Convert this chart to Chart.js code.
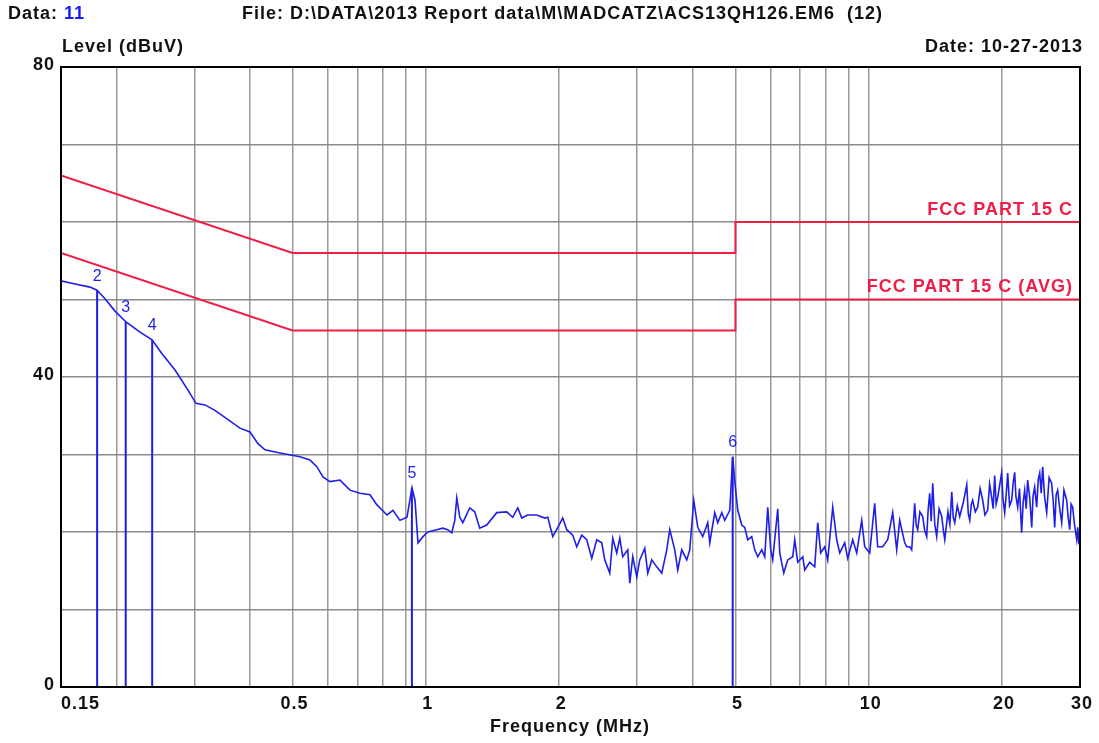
<!DOCTYPE html>
<html>
<head>
<meta charset="utf-8">
<script src="https://cdn.jsdelivr.net/npm/chart.js@4/dist/chart.umd.min.js"></script>
<style>
  html, body { margin: 0; padding: 0; background: #ffffff; }
  #emiChart { display: block; }
</style>
</head>
<body>
<canvas id="emiChart" width="1099" height="743"></canvas>
<script>
const freqMHz = [
  0.150, 0.1613, 0.1744, 0.1809, 0.1886, 0.1986, 0.2103, 0.2262, 0.2408, 0.2536,
  0.2714, 0.2903, 0.3026, 0.3171, 0.3340, 0.3575, 0.3804, 0.4007, 0.4177, 0.4332,
  0.4683, 0.5196, 0.5474, 0.5677, 0.5856, 0.6074, 0.6398, 0.6740, 0.7100, 0.7479,
  0.7755, 0.8170, 0.8429, 0.8741, 0.9065, 0.9303, 0.9450, 0.9599, 0.9852, 1.0099,
  1.0583, 1.0918, 1.1206, 1.1441, 1.1622, 1.1744, 1.1928, 1.2116, 1.2563, 1.2894,
  1.3232, 1.3723, 1.4455, 1.5226, 1.5709, 1.6127, 1.6466, 1.6988, 1.7802, 1.8557,
  1.8849, 1.9346, 1.9857, 2.0375, 2.0803, 2.1462, 2.1913, 2.2492, 2.3085, 2.3693,
  2.4317, 2.4958, 2.5350, 2.6018, 2.6427, 2.6982, 2.7406, 2.7836, 2.8571, 2.8869,
  2.9323, 2.9939, 3.0410, 3.1212, 3.1702, 3.2368, 3.3219, 3.4094, 3.4992, 3.5543,
  3.6479, 3.7052, 3.7832, 3.8829, 3.9440, 4.0268, 4.1114, 4.2197, 4.3308, 4.3761,
  4.4914, 4.5620, 4.6578, 4.7311, 4.8558, 4.93, 4.98, 5.0619, 5.1683, 5.2484,
  5.3309, 5.4430, 5.5286, 5.6156, 5.7336, 5.8238, 5.9154, 6.0085, 6.0712, 6.2313,
  6.2965, 6.4287, 6.5638, 6.7366, 6.8069, 6.9140, 7.0960, 7.1701, 7.3588, 7.5525,
  7.6713, 7.7920, 7.9558, 8.0810, 8.2937, 8.4679, 8.6010, 8.8273, 8.9662, 9.2022,
  9.3956, 9.6428, 9.7945, 10.052, 10.316, 10.478, 10.756, 11.039, 11.329, 11.567,
  11.749, 12.058, 12.184, 12.376, 12.505,
  12.70, 12.80, 12.90, 13.05, 13.24, 13.38, 13.52, 13.62, 13.73, 13.84,
  13.95, 14.10, 14.24, 14.42, 14.62, 14.73, 14.85, 15.10, 15.25, 15.40,
  15.52, 15.64, 15.85, 16.05, 16.35, 16.65, 16.78, 16.91, 17.05, 17.17,
  17.40, 17.62, 17.85, 18.09, 18.30, 18.56, 18.75, 18.95, 19.10, 19.25,
  19.40, 19.56, 19.75, 19.96, 20.10, 20.28, 20.45, 20.60, 20.80, 21.03,
  21.20, 21.36, 21.50, 21.70, 21.90, 22.15, 22.32, 22.50, 22.68, 22.85,
  23.10, 23.34, 23.50, 23.70, 23.95, 24.15, 24.33, 24.52, 24.71, 24.95,
  25.23, 25.55, 25.89, 26.10, 26.30, 26.50, 26.71, 27.00, 27.28, 27.60,
  27.99, 28.20, 28.44, 28.65, 28.88, 29.15, 29.49, 29.65, 29.80, 30.0
];
const levelDbuV = [
  52.4, 52.0, 51.6, 51.2, 50.1, 48.5, 47.1, 45.8, 44.8, 43.0,
  40.9, 38.3, 36.6, 36.4, 35.7, 34.5, 33.4, 32.9, 31.4, 30.6,
  30.2, 29.7, 29.3, 28.4, 27.1, 26.5, 26.7, 25.4, 25.0, 24.8,
  23.5, 22.2, 22.8, 21.5, 21.9, 25.7, 24.1, 18.6, 19.4, 20.0,
  20.3, 20.5, 20.3, 19.9, 21.5, 24.4, 21.9, 21.2, 23.1, 22.6,
  20.5, 20.9, 22.5, 22.6, 21.9, 23.1, 21.8, 22.2, 22.2, 21.8,
  21.9, 19.4, 20.6, 21.8, 20.3, 19.6, 18.1, 19.6, 19.0, 16.6,
  19.0, 18.6, 16.4, 14.7, 19.2, 17.3, 19.2, 16.8, 17.7, 13.4,
  16.8, 14.2, 16.4, 17.9, 14.7, 16.4, 15.5, 14.7, 17.7, 20.3,
  17.7, 15.1, 17.7, 16.4, 17.7, 24.1, 20.6, 19.4, 21.2, 18.6,
  22.5, 21.2, 22.5, 21.5, 22.8, 29.7, 26.7, 22.8, 20.9, 20.6,
  19.0, 19.4, 17.7, 16.8, 17.7, 16.8, 23.2, 17.7, 16.4, 23.0,
  17.3, 14.7, 16.4, 16.8, 19.0, 16.1, 16.8, 15.1, 16.1, 15.5,
  21.2, 17.3, 18.1, 16.4, 23.2, 19.0, 17.3, 18.6, 16.6, 19.0,
  17.3, 21.5, 18.1, 17.3, 23.7, 18.1, 18.1, 19.0, 22.5, 17.7,
  21.5, 18.6, 18.1, 18.1, 17.7,
  23.7, 20.9, 20.3, 22.6, 22.0, 20.2, 19.4, 22.8, 25.0, 21.4,
  26.3, 21.0, 19.4, 23.0, 22.0, 20.4, 19.0, 22.6, 21.0, 25.2,
  21.9, 21.2, 23.4, 22.0, 23.8, 26.1, 22.4, 21.5, 23.6, 24.1,
  22.6, 23.2, 25.6, 24.1, 22.2, 22.8, 26.2, 24.5, 23.0, 27.3,
  23.6, 24.5, 26.0, 27.6, 24.2, 22.5, 25.0, 27.6, 23.4, 24.1,
  26.4, 27.7, 24.6, 23.2, 25.6, 19.9, 23.8, 25.4, 23.0, 26.7,
  24.4, 20.6, 24.6, 25.8, 23.2, 26.8, 27.6, 25.0, 28.4, 24.6,
  22.5, 27.0, 26.3, 24.0, 20.6, 24.8, 25.4, 23.0, 21.2, 25.4,
  24.1, 22.0, 20.3, 23.6, 23.2, 21.0, 19.0, 20.6, 18.6, 18.3
];

// limit lines
const qpFreq = [0.15, 0.5, 5, 5, 30];
const qpLevel = [66, 56, 56, 60, 60];
const avgFreq = [0.15, 0.5, 5, 5, 30];
const avgLevel = [56, 46, 46, 50, 50];

// peak markers
const markerLabels = ['2', '3', '4', '5', '6'];
const markerFreq = [0.181, 0.210, 0.241, 0.930, 4.93];
const markerLevel = [51.2, 47.1, 44.8, 25.7, 29.7];

// axis ticks
const xGridTicks = [0.15, 0.2, 0.3, 0.4, 0.5, 0.6, 0.7, 0.8, 0.9, 1, 2, 3, 4, 5, 6, 7, 8, 9, 10, 20, 30];
const xTickLabels = [0.15, 0.5, 1, 2, 5, 10, 20, 30];
const yTickLabels = [0, 40, 80];

const BLUE = '#1e1ee8';
const RED = '#f01e46';
const FONT_B = 'bold 18px "Liberation Sans", Arial, sans-serif';

const toPoints = (xs, ys) => xs.map((x, i) => ({ x: x, y: ys[i] }));

// stems from 0 up to each marker, broken with nulls
const stemPoints = [];
markerFreq.forEach((f, i) => {
  stemPoints.push({ x: f, y: 0 }, { x: f, y: markerLevel[i] }, { x: f, y: null });
});

const textPlugin = {
  id: 'emiText',
  afterDraw(chart) {
    const ctx = chart.ctx;
    const xs = chart.scales.x;
    const ys = chart.scales.y;
    const area = chart.chartArea;
    ctx.save();

    // frame
    ctx.strokeStyle = '#000';
    ctx.lineWidth = 2;
    ctx.strokeRect(area.left, area.top, area.right - area.left, area.bottom - area.top);

    // header
    ctx.font = FONT_B;
    ctx.letterSpacing = '1px';
    ctx.textBaseline = 'middle';
    ctx.textAlign = 'left';
    ctx.fillStyle = '#111';
    ctx.fillText('Data:', 8, 14);
    ctx.fillStyle = '#1a1aff';
    ctx.fillText('11', 8 + ctx.measureText('Data: ').width, 14);
    ctx.fillStyle = '#111';
    ctx.fillText('File: D:\\DATA\\2013 Report data\\M\\MADCATZ\\ACS13QH126.EM6  (12)', 242, 14);
    ctx.fillText('Level (dBuV)', 62, 47);
    ctx.textAlign = 'right';
    ctx.fillText('Date: 10-27-2013', 1083, 47);

    // y tick labels
    yTickLabels.forEach(v => {
      ctx.fillText(String(v), 55, ys.getPixelForValue(v) - 2);
    });

    // x tick labels
    xTickLabels.forEach((v, i) => {
      const px = xs.getPixelForValue(v);
      ctx.textAlign = i === 0 ? 'left' : 'center';
      ctx.fillText(String(v), i === 0 ? px : px + 2, 704);
    });
    ctx.textAlign = 'center';
    ctx.fillText('Frequency (MHz)', 570, 727);

    // limit labels
    ctx.fillStyle = RED;
    ctx.textAlign = 'right';
    ctx.fillText('FCC PART 15 C', 1073, ys.getPixelForValue(qpLevel[4]) - 12);
    ctx.fillText('FCC PART 15 C (AVG)', 1073, ys.getPixelForValue(avgLevel[4]) - 12);

    // marker numbers
    ctx.letterSpacing = '0px';
    ctx.font = '16px "Liberation Sans", Arial, sans-serif';
    ctx.fillStyle = BLUE;
    ctx.textAlign = 'center';
    markerFreq.forEach((f, i) => {
      ctx.fillText(markerLabels[i], xs.getPixelForValue(f), ys.getPixelForValue(markerLevel[i]) - 14);
    });
    ctx.restore();
  }
};

new Chart(document.getElementById('emiChart'), {
  type: 'line',
  data: {
    datasets: [
      {
        label: 'Trace',
        data: toPoints(freqMHz, levelDbuV),
        borderColor: BLUE,
        borderWidth: 1.6,
        pointRadius: 0,
        tension: 0
      },
      {
        label: 'Markers',
        data: stemPoints,
        borderColor: BLUE,
        borderWidth: 2,
        pointRadius: 0,
        spanGaps: false
      },
      {
        label: 'FCC PART 15 C',
        data: toPoints(qpFreq, qpLevel),
        borderColor: RED,
        borderWidth: 2,
        pointRadius: 0
      },
      {
        label: 'FCC PART 15 C (AVG)',
        data: toPoints(avgFreq, avgLevel),
        borderColor: RED,
        borderWidth: 2,
        pointRadius: 0
      }
    ]
  },
  options: {
    responsive: false,
    animation: false,
    devicePixelRatio: 1,
    layout: { padding: { left: 61, right: 19, top: 67, bottom: 56 } },
    plugins: {
      legend: { display: false },
      tooltip: { enabled: false }
    },
    scales: {
      x: {
        type: 'logarithmic',
        min: 0.15,
        max: 30,
        afterBuildTicks: axis => { axis.ticks = xGridTicks.map(v => ({ value: v })); },
        ticks: { display: false },
        grid: { color: '#9a9a9a', lineWidth: 1.5, drawTicks: false },
        border: { color: '#000', width: 2 }
      },
      y: {
        min: 0,
        max: 80,
        ticks: { display: false, stepSize: 10 },
        grid: { color: '#8c8c8c', lineWidth: 1.5, drawTicks: false },
        border: { color: '#000', width: 2 }
      }
    }
  },
  plugins: [textPlugin]
});
</script>
</body>
</html>
